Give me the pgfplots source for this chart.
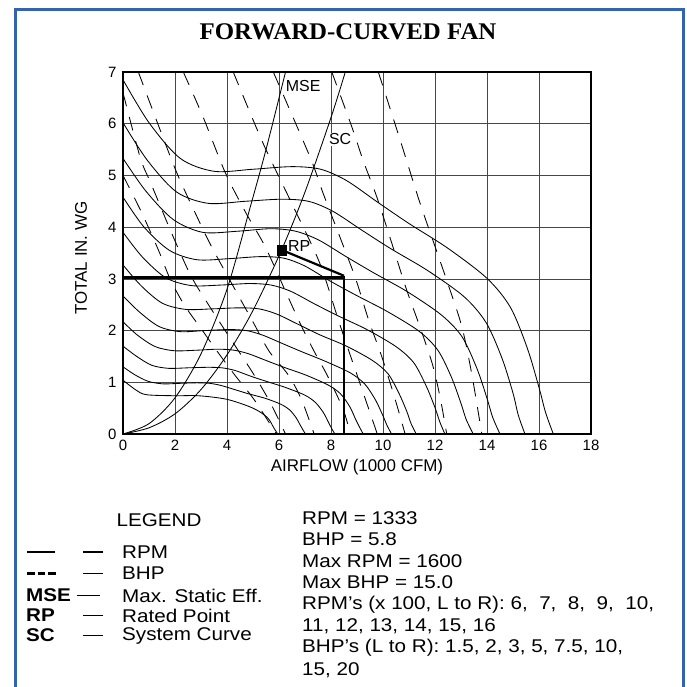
\documentclass[border=0pt]{standalone}
\usepackage{fontspec}
\setmainfont{Liberation Sans}
\newfontfamily\titlefont{Liberation Serif}
\usepackage{graphicx}
\usepackage{pgfplots}
\pgfplotsset{compat=1.18}
\definecolor{frameblue}{RGB}{52,100,176}
\newcommand{\lgd}[1]{\scalebox{1.12}[1]{#1}}
\begin{document}
\begin{tikzpicture}
\begin{scope}[x=1bp,y=1bp]
\useasboundingbox[fill=white] (0,0) rectangle (687,-687);
\draw[frameblue, line width=3.2bp] (15.5,-687) -- (15.5,-9.5) -- (683.5,-9.5) -- (683.5,-687);
\node at (348,-32) {\titlefont\bfseries\fontsize{24}{27}\selectfont\scalebox{1.04}[1]{FORWARD-CURVED FAN}};
\end{scope}
\begin{axis}[at={(123bp,-434bp)}, anchor=south west, scale only axis,
  width=468bp, height=362bp, xmin=0, xmax=18, ymin=0, ymax=7,
  xtick={0,2,...,18}, ytick={0,1,...,7},
  grid=major, grid style={black!72, line width=0.6bp},
  axis line style={line width=1.3bp}, tick style={draw=none},
  ticklabel style={font=\fontsize{15}{17}\selectfont},
  xticklabel style={yshift=-3bp}, yticklabel style={xshift=-3bp},
  /pgf/number format/assume math mode=true,
  xlabel={AIRFLOW (1000 CFM)}, ylabel={TOTAL IN. WG},
  label style={font=\fontsize{17}{19}\selectfont},
  xlabel style={at={(axis description cs:0.5,-0.0925)}, anchor=center},
  ylabel style={at={(axis description cs:-0.0897,0.486)}, anchor=center},
  clip=true]
% RPM curves (600 ... 1600 rpm)
\pgfplotsset{rpm/.style={black, line width=0.85bp, smooth, tension=0.5}}
\addplot[rpm] coordinates {(0,6.85)(1.0,6.02)(2.2,5.33)(3.5,5.08)(5.0,5.12)(6.5,5.17)(7.6,5.12)(8.6,4.9)(9.8,4.48)(11.0,4.07)(12.5,3.59)(14.0,3.01)(14.9,2.45)(15.55,1.66)(16.0,0.9)(16.25,0.42)(16.55,0)};
\addplot[rpm] coordinates {(0,6.02)(0.94,5.29)(2.06,4.68)(3.28,4.46)(4.69,4.50)(6.09,4.54)(7.13,4.50)(8.06,4.31)(9.19,3.94)(10.31,3.58)(11.72,3.16)(13.13,2.65)(13.97,2.15)(14.58,1.46)(15.0,0.79)(15.2,0.37)(15.46,0)};
\addplot[rpm] coordinates {(0,5.33)(0.875,4.7)(1.925,4.15)(3.06,3.9)(4.375,3.92)(5.69,3.97)(6.65,3.92)(7.53,3.75)(8.58,3.43)(9.63,3.12)(10.94,2.75)(12.25,2.30)(13.04,1.88)(13.61,1.27)(14.0,0.69)(14.22,0.32)(14.5,0)};
\addplot[rpm] coordinates {(0,4.58)(0.81,4.0)(1.79,3.55)(2.84,3.37)(4.06,3.39)(5.28,3.43)(6.18,3.40)(6.99,3.25)(7.96,2.96)(8.94,2.69)(10.16,2.37)(11.38,1.99)(12.11,1.62)(12.63,1.10)(13.0,0.59)(13.2,0.28)(13.47,0)};
\addplot[rpm] coordinates {(0,3.9)(0.75,3.42)(1.65,3.02)(2.63,2.87)(3.75,2.88)(4.88,2.91)(5.7,2.88)(6.45,2.76)(7.35,2.52)(8.25,2.29)(9.38,2.02)(10.5,1.69)(11.18,1.38)(11.66,0.93)(12.0,0.51)(12.18,0.24)(12.38,0)};
\addplot[rpm] coordinates {(0,3.27)(0.69,2.87)(1.51,2.53)(2.41,2.41)(3.44,2.42)(4.47,2.44)(5.23,2.42)(5.91,2.32)(6.74,2.12)(7.56,1.92)(8.59,1.70)(9.6,1.42)(10.2,1.16)(10.62,0.78)(10.92,0.43)(11.08,0.20)(11.28,0)};
\addplot[rpm] coordinates {(0,2.67)(0.63,2.36)(1.38,2.08)(2.19,1.98)(3.13,2.0)(4.06,2.02)(4.75,2.0)(5.38,1.91)(6.13,1.75)(6.88,1.59)(7.81,1.40)(8.75,1.18)(9.31,0.96)(9.72,0.65)(10.0,0.35)(10.16,0.16)(10.33,0)};
\addplot[rpm] coordinates {(0,2.17)(0.56,1.91)(1.24,1.69)(1.97,1.61)(2.81,1.62)(3.66,1.64)(4.28,1.62)(4.84,1.55)(5.51,1.42)(6.19,1.29)(7.03,1.14)(7.88,0.95)(8.36,0.78)(8.72,0.53)(8.95,0.28)(9.1,0.13)(9.24,0)};
\addplot[rpm] coordinates {(0,1.70)(0.5,1.51)(1.1,1.33)(1.75,1.27)(2.5,1.28)(3.25,1.29)(3.8,1.28)(4.3,1.23)(4.9,1.12)(5.5,1.02)(6.25,0.90)(7.0,0.75)(7.4,0.61)(7.7,0.42)(7.9,0.23)(8.02,0.11)(8.15,0)};
\addplot[rpm] coordinates {(0,1.30)(0.44,1.15)(0.96,1.02)(1.53,0.97)(2.19,0.98)(2.84,0.99)(3.33,0.98)(3.76,0.94)(4.29,0.86)(4.81,0.78)(5.47,0.69)(6.05,0.58)(6.4,0.47)(6.65,0.32)(6.82,0.17)(6.92,0.08)(7.02,0)};
\addplot[rpm] coordinates {(0,1.04)(0.5,0.85)(0.9,0.76)(2.0,0.74)(2.9,0.74)(4.0,0.67)(5.0,0.5)(5.55,0.32)(5.8,0.12)(5.95,0)};
% BHP lines (1.5, 2, 3, 5, 7.5, 10, 15, 20)
\pgfplotsset{bhp/.style={black, line width=0.85bp, dash pattern=on 14bp off 11bp, smooth, tension=0.5}}
\addplot[bhp] coordinates {(0,5.0)(0.7,4.3)(1.36,3.56)(1.81,3.0)(2.35,2.5)(3.0,2.04)(3.65,1.58)(4.3,1.14)(5.05,0.66)(5.9,0)};
\addplot[bhp] coordinates {(0,6.6)(0.66,5.35)(1.07,4.85)(1.9,3.85)(2.6,3.07)(3.2,2.57)(3.8,2.1)(4.45,1.6)(5.07,1.12)(5.67,0.6)(6.25,0)};
\addplot[bhp] coordinates {(0.59,7)(1.3,6.05)(2.07,5.05)(2.8,4.25)(3.43,3.6)(4.5,2.62)(5.04,2.13)(5.62,1.6)(6.36,1.14)(6.87,0.66)(7.35,0)};
\addplot[bhp] coordinates {(2.32,7)(3.08,6.13)(3.92,5.07)(4.7,4.3)(5.47,3.62)(6.33,2.67)(6.84,2.11)(7.35,1.6)(7.87,1.12)(8.45,0.5)(8.75,0)};
\addplot[bhp] coordinates {(4.24,7)(5.38,5.63)(6.5,4.45)(7.57,3.3)(8.35,2.1)(9.1,1.0)(9.78,0)};
\addplot[bhp] coordinates {(5.78,7)(7.19,5.36)(7.7,4.65)(8.35,3.8)(8.95,3.0)(9.45,2.2)(9.95,1.5)(10.45,0.7)(10.85,0)};
\addplot[bhp] coordinates {(8.03,7)(8.8,5.94)(9.25,5.27)(9.75,4.6)(10.3,3.75)(10.9,2.8)(11.4,2.1)(11.9,1.35)(12.2,0.7)(12.45,0)};
\addplot[bhp] coordinates {(9.82,7)(10.65,5.7)(11.4,4.5)(11.95,3.7)(12.5,2.9)(13.03,2.08)(13.41,1.17)(13.8,0)};
% MSE and SC
\addplot[black, line width=0.85bp, smooth] coordinates {(0,0)(1.0,0.2)(2.0,0.7)(3.0,1.55)(4.0,2.8)(4.9,4.4)(5.5,5.5)(6.25,7.0)};
\addplot[black, line width=0.85bp, smooth] coordinates {(0,0)(1,0.12)(2,0.39)(3,0.86)(4,1.53)(5,2.39)(6.1,3.56)(7,4.68)(8,6.12)(8.55,7.0)};
% rated point construction
\addplot[black, line width=2.6bp] coordinates {(0,3.03)(8.5,3.03)(8.5,0)};
\addplot[black, line width=2.2bp] coordinates {(6.1,3.56)(8.5,3.06)};
\addplot[black, only marks, mark=square*, mark size=4.8bp] coordinates {(6.1,3.56)};
\node[anchor=west, inner sep=1bp, fill=white, font=\fontsize{16}{18}\selectfont] at (axis cs:6.22,6.73) {MSE};
\node[anchor=west, inner sep=1bp, fill=white, font=\fontsize{16}{18}\selectfont] at (axis cs:7.88,5.70) {SC};
\node[anchor=west, inner sep=1bp, font=\fontsize{16}{18}\selectfont] at (axis cs:6.3,3.63) {RP};
\end{axis}
% legend
\begin{scope}[x=1bp,y=1bp, every node/.style={font=\fontsize{18.5}{20}\selectfont, inner sep=0pt}]
\node at (159,-520) {\lgd{LEGEND}};
\draw[line width=2.8bp] (27,-552) -- (55,-552);
\foreach \a in {27,37.5,48} \draw[line width=2.8bp] (\a,-573.5) -- (\a+7.5,-573.5);
\node[anchor=west] at (26,-595.5) {\lgd{\bfseries MSE}};
\node[anchor=west] at (26,-615.5) {\lgd{\bfseries RP}};
\node[anchor=west] at (26,-635.5) {\lgd{\bfseries SC}};
\foreach \yy in {552,573.5,615.5,635.5} \draw[line width=1.6bp] (83,-\yy) -- (103,-\yy);
\draw[line width=1.6bp] (77,-595.5) -- (100,-595.5);
\node[anchor=west] at (122,-552) {\lgd{RPM}};
\node[anchor=west] at (122,-573.5) {\lgd{BHP}};
\node[anchor=west] at (122,-595.5) {\lgd{Max. Static Eff.}};
\node[anchor=west] at (122,-615.5) {\lgd{Rated Point}};
\node[anchor=west] at (122,-635.5) {\lgd{System Curve}};
\node[anchor=west] at (302,-518.5) {\lgd{RPM = 1333}};
\node[anchor=west] at (302,-539) {\lgd{BHP = 5.8}};
\node[anchor=west] at (302,-561) {\lgd{Max RPM = 1600}};
\node[anchor=west] at (302,-582.5) {\lgd{Max BHP = 15.0}};
\node[anchor=west] at (302,-604.5) {\lgd{RPM's (x 100, L to R): 6, \ 7, \ 8, \ 9, \ 10,}};
\node[anchor=west] at (302,-626) {\lgd{11, 12, 13, 14, 15, 16}};
\node[anchor=west] at (302,-648) {\lgd{BHP's (L to R): 1.5, 2, 3, 5, 7.5, 10,}};
\node[anchor=west] at (302,-670) {\lgd{15, 20}};
\end{scope}
\end{tikzpicture}
\end{document}
